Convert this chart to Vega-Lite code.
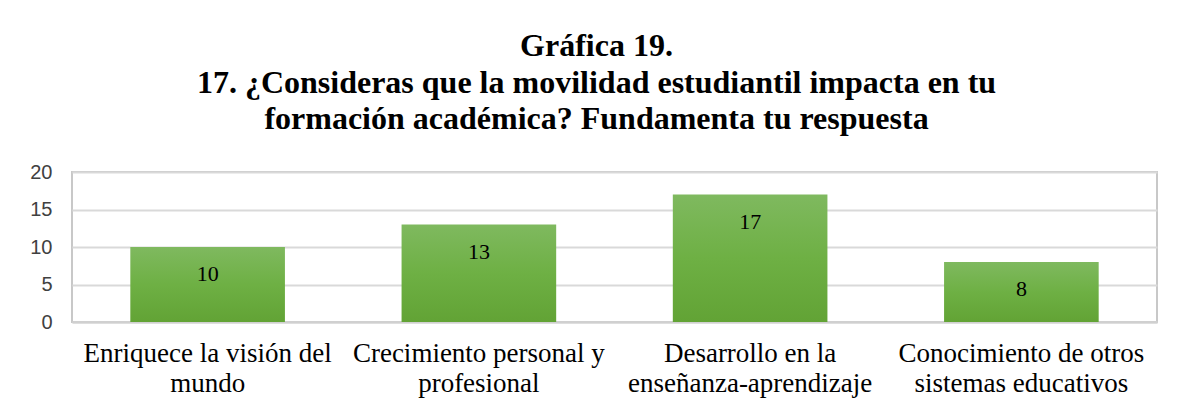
{
  "$schema": "https://vega.github.io/schema/vega-lite/v6.json",
  "autosize": "none",
  "width": 1085,
  "height": 150,
  "padding": {"left": 72, "top": 172, "right": 26, "bottom": 92},
  "background": "white",
  "title": {
    "text": ["Gráfica 19.", "17. ¿Consideras que la movilidad estudiantil impacta en tu", "formación académica? Fundamenta tu respuesta"],
    "font": "Liberation Serif",
    "fontSize": 32,
    "fontWeight": "bold",
    "color": "black",
    "lineHeight": 36.5,
    "anchor": "middle",
    "dx": -18,
    "offset": 26
  },
  "data": {
    "values": [
      {"categoria": "Enriquece la visión del mundo", "valor": 10},
      {"categoria": "Crecimiento personal y profesional", "valor": 13},
      {"categoria": "Desarrollo en la enseñanza-aprendizaje", "valor": 17},
      {"categoria": "Conocimiento de otros sistemas educativos", "valor": 8}
    ]
  },
  "encoding": {
    "x": {
      "field": "categoria",
      "type": "nominal",
      "sort": null,
      "scale": {"paddingInner": 0.43, "paddingOuter": 0.215},
      "axis": {
        "title": null,
        "labelAngle": 0,
        "labelFont": "Liberation Serif",
        "labelFontSize": 27,
        "labelColor": "black",
        "labelLineHeight": 30,
        "labelPadding": 18,
        "labelLimit": 400,
        "ticks": false,
        "domainColor": "#d0d0d0",
        "domainWidth": 2,
        "labelExpr": "datum.label == 'Enriquece la visión del mundo' ? ['Enriquece la visión del', 'mundo'] : datum.label == 'Crecimiento personal y profesional' ? ['Crecimiento personal y', 'profesional'] : datum.label == 'Desarrollo en la enseñanza-aprendizaje' ? ['Desarrollo en la', 'enseñanza-aprendizaje'] : ['Conocimiento de otros', 'sistemas educativos']"
      }
    },
    "y": {
      "field": "valor",
      "type": "quantitative",
      "scale": {"domain": [0, 20]},
      "axis": {
        "title": null,
        "values": [0, 5, 10, 15, 20],
        "labelFont": "Liberation Sans",
        "labelFontSize": 20,
        "labelColor": "#404040",
        "labelPadding": 20,
        "ticks": false,
        "domain": false,
        "gridColor": "#d9d9d9",
        "gridWidth": 2
      }
    }
  },
  "layer": [
    {
      "mark": {
        "type": "bar",
        "color": {
          "gradient": "linear",
          "x1": 0, "y1": 0, "x2": 0, "y2": 1,
          "stops": [
            {"offset": 0, "color": "#7fb95f"},
            {"offset": 0.5, "color": "#6eb044"},
            {"offset": 1, "color": "#62a335"}
          ]
        }
      }
    },
    {
      "mark": {
        "type": "text",
        "baseline": "middle",
        "dy": 27,
        "font": "Liberation Serif",
        "fontSize": 22,
        "color": "black"
      },
      "encoding": {
        "text": {"field": "valor", "type": "quantitative"}
      }
    }
  ],
  "config": {
    "view": {"stroke": "#c8c8c8", "strokeWidth": 2}
  }
}
